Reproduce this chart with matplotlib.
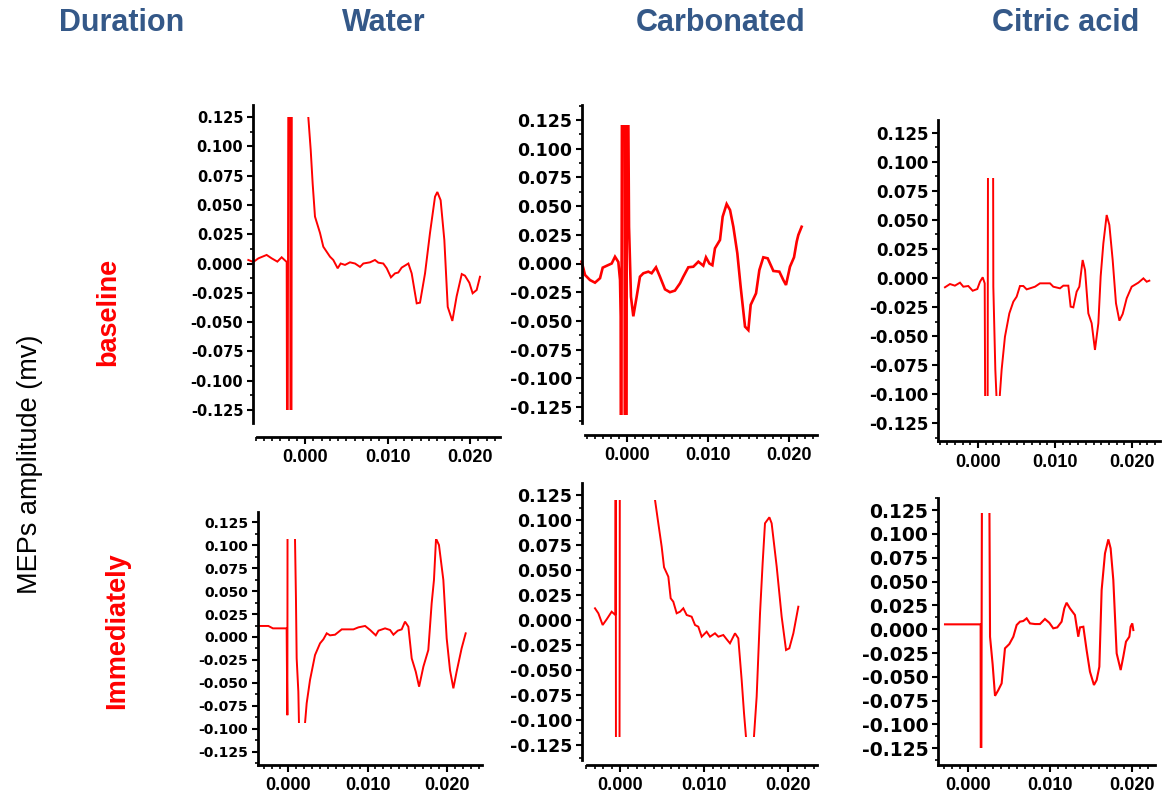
import numpy as np
import matplotlib
matplotlib.use("Agg")
from matplotlib import pyplot as plt
from matplotlib.patches import Rectangle
from matplotlib.ticker import MultipleLocator

plt.rcParams['axes.unicode_minus'] = False

W, H = 1168, 798

drinks = ["Water", "Carbonated", "Citric acid"]
timepoints = ["baseline", "Immediately"]
y_ticks = [-0.125, -0.100, -0.075, -0.050, -0.025, 0.000, 0.025, 0.050, 0.075, 0.100, 0.125]
x_ticks = [0.000, 0.010, 0.020]

# MEP traces, time in ms and amplitude in mV (+-0.3 = off the recording window)
water_base_t = [-6.87, -6.26, -5.65, -4.65, -4.04, -3.35, -2.83, -2.22, -2.14, -1.98, -1.82, -1.74,
                -1.66, -1.58, 0.20, 0.40, 0.69, 0.93, 1.21, 1.82, 2.22, 3.03, 3.43, 3.96, 4.32, 4.85,
                5.45, 6.06, 6.67, 7.07, 7.88, 8.48, 8.89, 9.49, 9.90, 10.42, 10.91, 11.31, 11.72,
                12.53, 12.93, 13.54, 13.94, 14.55, 15.15, 15.76, 16.04, 16.44, 16.89, 17.30, 17.86,
                18.38, 19.00, 19.39, 19.92, 20.32, 20.81, 21.21]
water_base_v = [0.003, 0.0013, 0.0044, 0.0073, 0.0044, 0.0016, 0.0053, 0.0013, -0.3, 0.3, 0.3, -0.3,
                -0.3, 0.3, 0.3, 0.125, 0.097, 0.068, 0.040, 0.026, 0.0143, 0.0058, 0.003, -0.0041, 0.0,
                -0.0012, 0.001, 0.0, -0.0029, 0.0, 0.001, 0.003, 0.0007, 0.0, -0.004, -0.0118, -0.0084,
                -0.0077, -0.0035, 0.0, -0.0084, -0.034, -0.0334, -0.0084, 0.026, 0.057, 0.061, 0.054,
                0.020, -0.037, -0.049, -0.028, -0.009, -0.0104, -0.0164, -0.0254, -0.0226, -0.0113]

carb_base_t = [-5.6, -5.18, -4.57, -3.95, -3.33, -3.0, -2.3, -1.89, -1.48, -1.07, -0.86, -0.78, -0.74,
               -0.58, -0.33, -0.25, -0.08, 0.0, 0.25, 0.49, 0.78, 1.19, 1.6, 2.02, 2.63, 3.04, 3.58,
               4.07, 4.69, 5.3, 5.92, 6.54, 6.95, 7.57, 8.19, 8.81, 9.42, 9.75, 10.17, 10.54, 10.86,
               11.48, 11.81, 12.3, 12.72, 13.13, 13.62, 14.03, 14.57, 14.98, 15.27, 15.93, 16.34,
               16.83, 17.37, 18.07, 18.81, 19.3, 19.63, 20.12, 20.62, 20.95, 21.15, 21.56]
carb_base_v = [0.0016, -0.010, -0.0144, -0.0167, -0.0128, -0.0036, -0.0013, 0.0, 0.0059, 0.0013,
               -0.0144, -0.046, -0.3, 0.3, 0.3, -0.3, -0.3, 0.3, 0.032, -0.029, -0.046, -0.029,
               -0.0115, -0.0085, -0.0071, -0.0085, -0.0033, -0.0115, -0.0225, -0.025, -0.0236,
               -0.0173, -0.0115, -0.0033, -0.0028, 0.0016, -0.0019, 0.0054, 0.0, -0.0015, 0.0132,
               0.0205, 0.0408, 0.0518, 0.0466, 0.032, 0.0089, -0.0202, -0.055, -0.058, -0.036,
               -0.026, -0.0057, 0.0054, 0.0045, -0.0065, -0.0071, -0.0144, -0.0187, -0.0028, 0.0054,
               0.019, 0.0248, 0.032]

citric_base_t = [-4.29, -3.64, -3.0, -2.34, -1.9, -1.26, -0.69, -0.09, 0.26, 0.61, 0.87, 1.04, 1.21,
                 1.34, 1.91, 1.99, 2.25, 2.45, 2.77, 3.07, 3.5, 4.07, 4.59, 5.02, 5.45, 5.89, 6.32,
                 6.75, 7.4, 8.05, 9.35, 9.78, 10.65, 11.08, 11.73, 12.03, 12.38, 12.81, 13.16, 13.59,
                 13.9, 14.33, 14.76, 15.19, 15.63, 15.93, 16.28, 16.71, 17.06, 17.49, 17.92, 18.36,
                 18.79, 19.31, 19.96, 20.83, 21.48, 21.91, 22.25]
citric_base_v = [-0.008, -0.0052, -0.0066, -0.004, -0.0075, -0.0069, -0.011, -0.0095, -0.0032, 0.0006,
                 -0.0046, -0.3, -0.3, 0.3, 0.3, -0.0075, -0.079, -0.11, -0.107, -0.079, -0.0506,
                 -0.0305, -0.0204, -0.0161, -0.0069, -0.0069, -0.0098, -0.0089, -0.0075, -0.0046,
                 -0.0046, -0.0075, -0.0089, -0.0066, -0.0066, -0.0247, -0.0253, -0.0118, -0.0075,
                 0.0155, 0.0069, -0.0305, -0.039, -0.062, -0.039, 0.0014, 0.0299, 0.0543, 0.0457,
                 0.0155, -0.0218, -0.0368, -0.031, -0.0175, -0.0075, -0.004, -0.0003, -0.0032, -0.0023]

water_imm_t = [-3.52, -2.47, -1.9, -0.17, -0.13, -0.08, -0.04, 0.84, 0.88, 1.0, 1.09, 1.3, 1.38, 1.6,
               1.95, 2.14, 2.35, 2.77, 3.4, 4.03, 4.45, 4.87, 5.29, 5.92, 6.76, 7.6, 8.23, 8.86, 9.7,
               10.33, 11.04, 11.38, 12.21, 12.84, 13.26, 13.81, 14.3, 14.72, 15.14, 15.56, 16.07,
               16.49, 17.03, 17.65, 18.07, 18.36, 18.62, 18.99, 19.54, 19.96, 20.38, 20.8, 21.21,
               21.84, 22.35]
water_imm_v = [0.012, 0.012, 0.0094, 0.0094, -0.0377, -0.085, 0.3, 0.3, 0.107, 0.042, -0.0232,
               -0.0594, -0.0938, -0.13, -0.13, -0.0938, -0.072, -0.0467, -0.0196, -0.0069, -0.0025,
               0.004, 0.0018, 0.0025, 0.0083, 0.0083, 0.0083, 0.0105, 0.012, 0.0076, 0.0018, 0.0069,
               0.0094, 0.0076, 0.0025, 0.0069, 0.0083, 0.0167, 0.0112, -0.0232, -0.0377, -0.054,
               -0.0322, -0.0141, 0.0366, 0.062, 0.107, 0.1, 0.062, -0.0014, -0.0362, -0.0558, -0.0377,
               -0.0123, 0.004]

carb_imm_t = [-2.97, -2.57, -2.06, -1.58, -0.99, -0.55, -0.51, -0.47, -0.08, 0.0, 4.0, 4.16, 4.55,
              4.95, 5.23, 5.74, 6.02, 6.33, 6.73, 7.13, 7.52, 7.92, 8.51, 8.91, 9.3, 9.7, 10.29,
              10.69, 11.28, 11.68, 12.27, 12.67, 13.06, 13.66, 14.05, 14.45, 14.73, 14.96, 15.2,
              15.7, 15.91, 16.23, 16.63, 16.94, 17.22, 17.74, 18.01, 18.61, 19.2, 19.72, 20.11,
              20.59, 21.18]
carb_imm_v = [0.0117, 0.0067, -0.005, 0.0007, 0.0083, 0.005, 0.3, -0.3, -0.3, 0.3, 0.3, 0.12, 0.0967,
              0.0733, 0.0527, 0.0433, 0.0217, 0.0183, 0.0067, 0.0083, 0.0117, 0.005, 0.0033, -0.005,
              -0.0067, -0.0167, -0.0117, -0.0167, -0.0133, -0.0167, -0.015, -0.0193, -0.0233,
              -0.0133, -0.0183, -0.06, -0.0933, -0.1167, -0.2, -0.2, -0.1167, -0.0767, 0.0067,
              0.0567, 0.0967, 0.1027, 0.0967, 0.0533, 0.0033, -0.03, -0.0283, -0.0133, 0.0133]

citric_imm_t = [-2.85, 1.51, 1.55, 1.71, 2.49, 2.66, 2.98, 3.27, 3.67, 4.08, 4.49, 5.02, 5.51, 5.92,
                6.32, 6.73, 7.14, 7.55, 8.16, 8.77, 9.38, 9.91, 10.4, 10.89, 11.42, 11.75, 12.03,
                12.44, 13.05, 13.46, 13.67, 14.08, 14.48, 14.89, 15.38, 15.71, 16.04, 16.32, 16.73,
                17.14, 17.42, 17.75, 18.16, 18.65, 18.97, 19.3, 19.71, 19.87, 20.07, 20.2]
citric_imm_v = [0.0051, 0.0051, -0.3, 0.3, 0.3, -0.0079, -0.037, -0.070, -0.064, -0.0569, -0.0201,
                -0.0156, -0.0079, 0.0044, 0.0079, 0.0086, 0.0114, 0.0061, 0.0054, 0.0054, 0.0107,
                0.0068, 0.0009, 0.0019, 0.0079, 0.0219, 0.0278, 0.0219, 0.0149, -0.0079, 0.0019,
                0.0026, -0.0219, -0.0446, -0.0586, -0.0534, -0.0394, 0.0411, 0.0796, 0.0943, 0.0849,
                0.0516, -0.0254, -0.0429, -0.0289, -0.0131, -0.0079, 0.0026, 0.0061, -0.0009]

traces = [(water_base_t, water_base_v), (carb_base_t, carb_base_v), (citric_base_t, citric_base_v),
          (water_imm_t, water_imm_v), (carb_imm_t, carb_imm_v), (citric_imm_t, citric_imm_v)]

# panel frames (pixels): spine x, top, bottom, right end, x-axis y, x-axis start,
# x of t=0, px per ms, y of 0 mV, mV per px
frames = [
    (253, 105, 423, 500, 437, 257, 305.0, 8.25, 263.5, 0.000853),
    (582, 105, 423, 817, 435, 585, 627.0, 8.10, 263.5, 0.000871),
    (938, 120, 441, 1160, 441, 938, 978.0, 7.70, 278.0, 0.000862),
    (258, 512, 765, 482, 765, 258, 288.0, 7.95, 637.0, 0.001087),
    (582, 483, 760, 817, 765, 587, 620.0, 8.42, 620.0, 0.001),
    (938, 498, 765, 1155, 765, 938, 968.3, 8.17, 629.2, 0.00105),
]
# visible window of the recording in each panel (mV)
windows = [(-0.125, 0.125), (-0.132, 0.1206), (-0.102, 0.086),
           (-0.094, 0.107), (-0.1167, 0.12), (-0.125, 0.1216)]
ylabel_size = [10.5, 12.5, 12, 10, 12.5, 13.5]
trace_lw = [1.4, 1.9, 1.4, 1.4, 1.4, 1.5]

fig = plt.figure(figsize=(W / 100, H / 100), dpi=100)

for i, (t_ms, amp) in enumerate(traces):
    sx, top, bot, right, axis_y, ax0, zx, ppm, zy, k = frames[i]
    ax = fig.add_axes([sx / W, 1 - bot / H, (right - sx) / W, (bot - top) / H])
    ax.set_xlim((sx - zx) / ppm / 1000, (right - zx) / ppm / 1000)
    ax.set_ylim(-(bot - zy) * k, (zy - top) * k)

    t = np.array(t_ms) / 1000
    line, = ax.plot(t, amp, color='#ff0000', lw=trace_lw[i], solid_joinstyle='miter')
    lo, hi = windows[i]
    line.set_clip_path(Rectangle((-0.02, lo), 0.06, hi - lo, transform=ax.transData))

    for s in ['top', 'right']:
        ax.spines[s].set_visible(False)
    ax.spines['left'].set_linewidth(2.0)
    ax.spines['bottom'].set_linewidth(2.0)
    ax.spines['bottom'].set_position(('outward', (axis_y - bot) * 0.72))
    ax.spines['bottom'].set_bounds((ax0 - zx) / ppm / 1000, (right - zx) / ppm / 1000)

    ax.set_yticks(y_ticks, labels=[f"{v:.3f}" for v in y_ticks], fontsize=ylabel_size[i],
                  fontweight='bold', fontfamily='DejaVu Sans')
    ax.yaxis.set_minor_locator(MultipleLocator(0.0125))
    ax.set_xticks(x_ticks, labels=[f"{v:.3f}" for v in x_ticks], fontsize=13,
                  fontweight='bold', fontfamily='Liberation Sans')
    ax.xaxis.set_minor_locator(MultipleLocator(0.001))
    ax.tick_params(axis='y', which='major', direction='out', length=4, width=1.5, pad=3)
    ax.tick_params(axis='y', which='minor', direction='out', length=2.5, width=1.2)
    ax.tick_params(axis='x', which='major', direction='out', length=5, width=1.5, pad=4)
    ax.tick_params(axis='x', which='minor', direction='out', length=3, width=1.2)
    ax.patch.set_visible(False)

head_color = '#345888'
fig.text(122 / W, 1 - 23 / H, "Duration", ha='center', va='center', fontsize=22,
         fontweight='bold', fontfamily='Liberation Sans', color=head_color)
for x, name in zip([384, 721, 1066], drinks):
    fig.text(x / W, 1 - 23 / H, name, ha='center', va='center', fontsize=22,
             fontweight='bold', fontfamily='Liberation Sans', color=head_color)

for (x, y), name in zip([(108, 312), (117, 631)], timepoints):
    fig.text(x / W, 1 - y / H, name, ha='center', va='center', rotation=90, fontsize=19.5,
             fontweight='bold', fontfamily='Liberation Sans', color='#ff0000')

fig.text(30 / W, 1 - 464 / H, "MEPs amplitude (mv)", ha='center', va='center', rotation=90,
         fontsize=19.5, fontfamily='Liberation Sans', color='black')

fig.savefig('out.png', dpi=100)
